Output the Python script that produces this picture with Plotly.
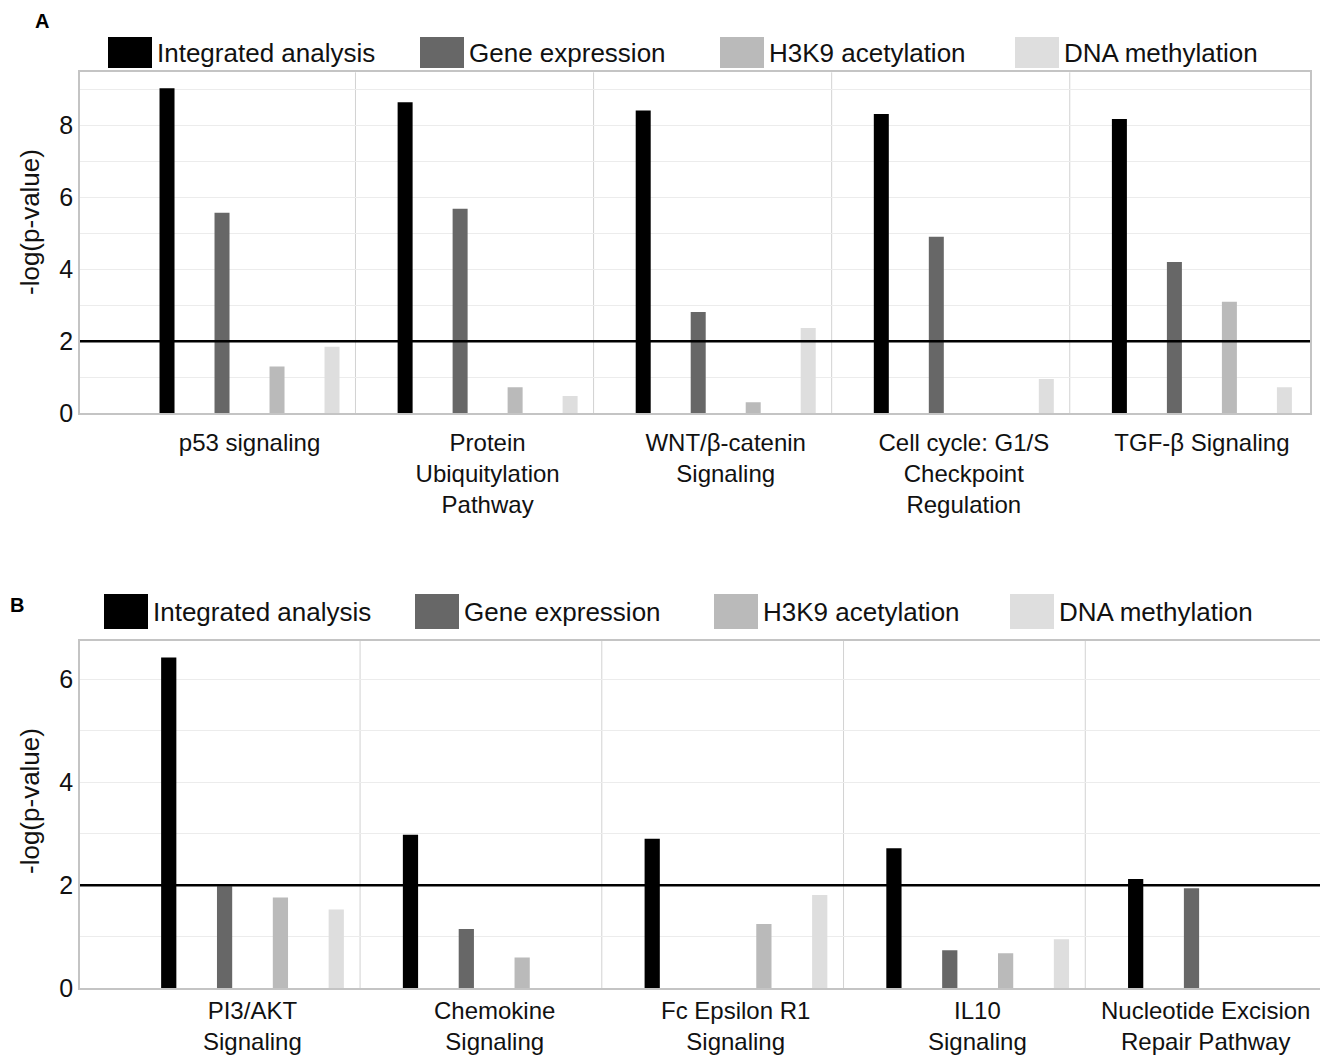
import plotly.graph_objects as go

# ---------------- data ----------------
SERIES = ["Integrated analysis", "Gene expression", "H3K9 acetylation", "DNA methylation"]
COLORS = ["#000000", "#676767", "#bababa", "#dedede"]

CATS_A = ["p53 signaling",
          "Protein<br>Ubiquitylation<br>Pathway",
          "WNT/β-catenin<br>Signaling",
          "Cell cycle: G1/S<br>Checkpoint<br>Regulation",
          "TGF-β Signaling"]
INTEGRATED_A = [9.03, 8.64, 8.41, 8.31, 8.17]
GENE_A = [5.57, 5.68, 2.81, 4.90, 4.20]
H3K9_A = [1.30, 0.72, 0.31, None, 3.10]
DNA_A = [1.85, 0.48, 2.37, 0.95, 0.72]

CATS_B = ["PI3/AKT<br>Signaling",
          "Chemokine<br>Signaling",
          "Fc Epsilon R1<br>Signaling",
          "IL10<br>Signaling",
          "Nucleotide Excision<br>Repair Pathway"]
INTEGRATED_B = [6.42, 2.98, 2.90, 2.72, 2.12]
GENE_B = [1.98, 1.15, None, 0.74, 1.94]
H3K9_B = [1.76, 0.60, 1.25, 0.68, None]
DNA_B = [1.53, None, 1.81, 0.95, None]

THRESHOLD = 2.0
Y_TICKS_A = [0, 2, 4, 6, 8]
Y_TICKS_B = [0, 2, 4, 6]
Y_TITLE = "-log(p-value)"

# ---------------- layout helpers ----------------
PAGE_OFF = 8            # default page body margin in the browser
W, H = 1328 - PAGE_OFF, 1058 - PAGE_OFF
FONT = "Liberation Sans, Arial, Helvetica, sans-serif"
SLOT = 0.231
BAR_W = 0.063
DIV_OFF = 0.445
LABEL_SHIFT_B = [0, 0, 0, 0, -14]   # pixel nudges of panel B category labels


def px(x):
    return (x - PAGE_OFF) / W


def py(y):
    return 1 - (y - PAGE_OFF) / H


fig = go.Figure()

panels = [
    dict(cats=CATS_A, series=[INTEGRATED_A, GENE_A, H3K9_A, DNA_A], xa="x", ya="y",
         xdom=[px(80), px(1310)], ydom=[py(413.3), py(72.3)], xr=[-0.712, 4.454], yr=[0, 9.47],
         yticks=Y_TICKS_A, letter="A", letter_pos=(42, 8),
         leg_boxes=[108, 420, 720, 1015], leg_y=(37, 68), ytitle_y=222, tick_labels=True),
    dict(cats=CATS_B, series=[INTEGRATED_B, GENE_B, H3K9_B, DNA_B], xa="x2", ya="y2",
         xdom=[px(80), px(1327)], ydom=[py(988.3), py(641)], xr=[-0.7136, 4.445], yr=[0, 6.74],
         yticks=Y_TICKS_B, letter="B", letter_pos=(17, 592),
         leg_boxes=[104, 415, 714, 1010], leg_y=(594, 629), ytitle_y=801, tick_labels=False),
]

shapes = []
annotations = []

for pi, p in enumerate(panels):
    n = len(p["cats"])
    xs = list(range(n))
    for k, (name, vals) in enumerate(zip(SERIES, p["series"])):
        fig.add_trace(go.Bar(
            x=xs, y=vals, name=name, width=BAR_W,
            offset=(k - 1.5) * SLOT - BAR_W / 2,
            marker=dict(color=COLORS[k], line=dict(width=0)),
            xaxis=p["xa"], yaxis=p["ya"], showlegend=False,
        ))
    suffix = "" if pi == 0 else "2"
    fig.update_layout(**{
        "xaxis" + suffix: dict(
            domain=p["xdom"], range=p["xr"], anchor=p["ya"],
            tickvals=xs, ticktext=p["cats"], showticklabels=p["tick_labels"],
            ticks="", showgrid=False, zeroline=False, ticklabelstandoff=7,
            showline=True, mirror=True, linecolor="#c4c4c4", linewidth=1.5,
            tickfont=dict(family=FONT, size=24, color="#111111"), automargin=False,
            fixedrange=True,
        ),
        "yaxis" + suffix: dict(
            domain=p["ydom"], range=p["yr"], anchor=p["xa"],
            tickvals=p["yticks"], ticks="", showgrid=True, gridcolor="#ececec", gridwidth=1,
            minor=dict(dtick=1, tick0=0, showgrid=True, gridcolor="#ececec", gridwidth=1),
            zeroline=False, showline=True, mirror=True, linecolor="#c4c4c4", linewidth=1.5,
            tickfont=dict(family=FONT, size=25, color="#111111"), automargin=False,
            fixedrange=True,
        ),
    })
    # category labels as annotations where they need individual nudging
    if not p["tick_labels"]:
        for i, lab in enumerate(p["cats"]):
            annotations.append(dict(xref=p["xa"], yref=p["ya"], x=i, y=0, text=lab,
                                    showarrow=False, xanchor="center", yanchor="top",
                                    align="center", xshift=LABEL_SHIFT_B[i], yshift=-7,
                                    font=dict(family=FONT, size=24, color="#111111")))
    # category dividers
    for i in range(n - 1):
        shapes.append(dict(type="line", xref=p["xa"], yref=p["ya"] + " domain",
                           x0=i + DIV_OFF, x1=i + DIV_OFF, y0=0, y1=1,
                           line=dict(color="#d2d2d2", width=1), layer="below"))
    # threshold line
    shapes.append(dict(type="line", xref=p["xa"] + " domain", yref=p["ya"],
                       x0=0, x1=1, y0=THRESHOLD, y1=THRESHOLD,
                       line=dict(color="#000000", width=2.5), layer="above"))
    # manual legend
    y0, y1 = p["leg_y"]
    for k, (name, bx) in enumerate(zip(SERIES, p["leg_boxes"])):
        shapes.append(dict(type="rect", xref="paper", yref="paper",
                           x0=px(bx), x1=px(bx + 44), y0=py(y1), y1=py(y0),
                           fillcolor=COLORS[k], line=dict(width=0)))
        annotations.append(dict(xref="paper", yref="paper", x=px(bx + 47), y=py((y0 + y1) / 2),
                                text=name, showarrow=False, xanchor="left", yanchor="middle",
                                font=dict(family=FONT, size=26, color="#111111")))
    # y title
    annotations.append(dict(xref="paper", yref="paper", x=px(30), y=py(p["ytitle_y"]),
                            text=Y_TITLE, textangle=-90, showarrow=False,
                            xanchor="center", yanchor="middle",
                            font=dict(family=FONT, size=26, color="#111111")))
    # panel letter
    lx, ly = p["letter_pos"]
    annotations.append(dict(xref="paper", yref="paper", x=px(lx), y=py(ly),
                            text="<b>" + p["letter"] + "</b>", showarrow=False,
                            xanchor="center", yanchor="top",
                            font=dict(family=FONT, size=20, color="#000000")))

fig.update_layout(
    width=W, height=H, margin=dict(l=0, r=0, t=0, b=0),
    paper_bgcolor="white", plot_bgcolor="white",
    barmode="overlay", showlegend=False,
    shapes=shapes, annotations=annotations,
    font=dict(family=FONT, color="#111111"),
)

fig.write_html("out.html")
